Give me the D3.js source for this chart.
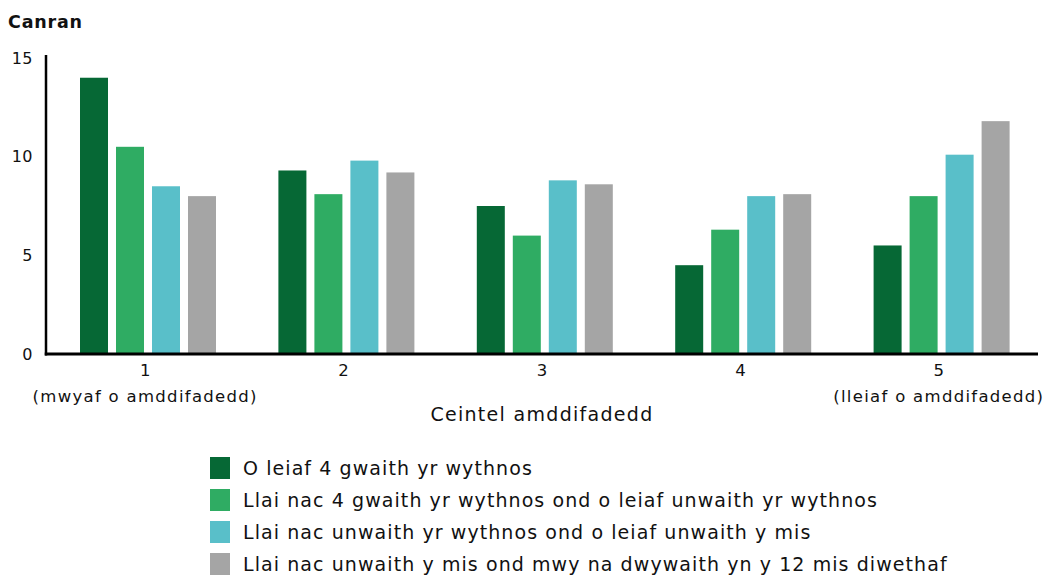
<!DOCTYPE html>
<html>
<head>
<meta charset="utf-8">
<script src="https://cdn.jsdelivr.net/npm/d3@7"></script>
<style>
  html, body { margin: 0; padding: 0; background: #fff; }
  svg { display: block; font-family: "DejaVu Sans", sans-serif; }
</style>
</head>
<body>
<svg id="chart" width="1046" height="577"></svg>
<script>
const categories = ["1", "2", "3", "4", "5"];
const categorySubLabels = ["(mwyaf o amddifadedd)", "", "", "", "(lleiaf o amddifadedd)"];
const seriesNames = [
  "O leiaf 4 gwaith yr wythnos",
  "Llai nac 4 gwaith yr wythnos ond o leiaf unwaith yr wythnos",
  "Llai nac unwaith yr wythnos ond o leiaf unwaith y mis",
  "Llai nac unwaith y mis ond mwy na dwywaith yn y 12 mis diwethaf"
];
const seriesColors = ["#066835", "#2fac63", "#59bfc9", "#a5a5a5"];
const s1 = [14.0, 9.3, 7.5, 4.5, 5.5];
const s2 = [10.5, 8.1, 6.0, 6.3, 8.0];
const s3 = [8.5, 9.8, 8.8, 8.0, 10.1];
const s4 = [8.0, 9.2, 8.6, 8.1, 11.8];
const seriesValues = [s1, s2, s3, s4];
const yTicks = [0, 5, 10, 15];
const yTitle = "Canran";
const xTitle = "Ceintel amddifadedd";

const FONT = "'DejaVu Sans', sans-serif";
const svg = d3.select("#chart");
const pLeft = 46, pRight = 1038, pBottom = 354;

const x0 = d3.scaleBand().domain(categories).range([pLeft, pRight]).padding(0);
const x1 = d3.scaleBand().domain(d3.range(seriesNames.length))
  .range([34, 170]).paddingInner(0.2222).paddingOuter(0);
const y = d3.scaleLinear().domain([0, 15]).range([pBottom, 58]);

// bars
const groups = svg.append("g").selectAll("g").data(categories).join("g")
  .attr("transform", d => `translate(${x0(d)},0)`);
groups.selectAll("rect")
  .data((d, i) => seriesValues.map((vals, k) => ({k, v: vals[i]})))
  .join("rect")
  .attr("x", d => x1(d.k))
  .attr("width", x1.bandwidth())
  .attr("y", d => y(d.v))
  .attr("height", d => y(0) - y(d.v))
  .attr("fill", d => seriesColors[d.k]);

// y axis
const yAxis = d3.axisLeft(y).tickValues(yTicks).tickSize(0).tickPadding(13);
const yg = svg.append("g").attr("transform", `translate(${pLeft},0)`).call(yAxis);
yg.select(".domain").remove();
yg.selectAll("text").attr("font-size", 16).attr("fill", "#111")
  .attr("font-family", FONT).attr("letter-spacing", 0.5);
svg.append("line").attr("x1", pLeft).attr("x2", pLeft).attr("y1", 55).attr("y2", pBottom + 1.5)
  .attr("stroke", "#000").attr("stroke-width", 2.5);

// x axis
const xAxis = d3.axisBottom(x0).tickSize(0).tickPadding(10);
const xg = svg.append("g").attr("transform", `translate(0,${pBottom})`).call(xAxis);
xg.select(".domain").remove();
xg.selectAll("text").attr("font-size", 16.5).attr("fill", "#111")
  .attr("font-family", FONT);
svg.append("line").attr("x1", pLeft - 1.25).attr("x2", pRight).attr("y1", pBottom).attr("y2", pBottom)
  .attr("stroke", "#000").attr("stroke-width", 3);

svg.append("g").selectAll("text").data(categories).join("text")
  .attr("x", d => x0(d) + x0.bandwidth() / 2)
  .attr("y", 402)
  .attr("text-anchor", "middle")
  .attr("font-size", 16.5).attr("letter-spacing", 1.3).attr("fill", "#111")
  .text((d, i) => categorySubLabels[i]);

svg.append("text").attr("x", (pLeft + pRight) / 2).attr("y", 421)
  .attr("text-anchor", "middle").attr("font-size", 19).attr("letter-spacing", 1.3).attr("fill", "#111")
  .text(xTitle);

svg.append("text").attr("x", 8).attr("y", 28)
  .attr("font-size", 17.5).attr("font-weight", "bold").attr("letter-spacing", 0.8).attr("fill", "#111")
  .text(yTitle);

// legend
const lg = svg.append("g").selectAll("g").data(seriesNames).join("g")
  .attr("transform", (d, i) => `translate(210,${457 + i * 32})`);
lg.append("rect").attr("width", 20).attr("height", 22).attr("fill", (d, i) => seriesColors[i]);
lg.append("text").attr("x", 33).attr("y", 18).attr("font-size", 19).attr("letter-spacing", 1.08)
  .attr("fill", "#111").text(d => d);
</script>
</body>
</html>
